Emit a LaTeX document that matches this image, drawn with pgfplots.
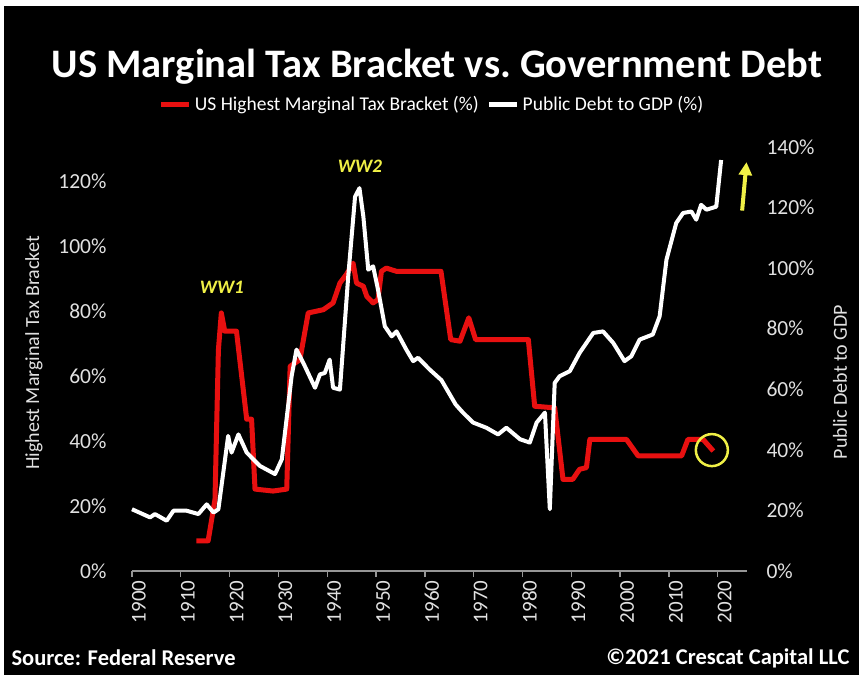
\documentclass[border=0pt]{standalone}
\usepackage{fontspec}
\setmainfont{Carlito}
\usepackage{pgfplots}
\pgfplotsset{compat=1.18}
\usetikzlibrary{arrows.meta}
\definecolor{taxred}{RGB}{232,16,16}
\definecolor{lbl}{RGB}{225,225,225}
\definecolor{axgray}{RGB}{150,150,150}
\definecolor{ann}{RGB}{240,240,70}

\pgfplotstableread{
year tax
1913.2 9.3
1915.6 9.3
1917.0 22.0
1917.7 68.0
1918.3 79.4
1919.0 73.8
1921.4 73.8
1923.5 46.7
1924.5 46.7
1925.2 25.2
1928.9 24.6
1931.7 25.2
1932.4 63.0
1934.4 65.0
1936.1 79.4
1939.2 80.4
1941.2 82.5
1942.6 88.6
1943.9 91.2
1945.3 94.7
1946.0 88.6
1947.4 87.6
1948.1 84.5
1949.4 82.5
1950.4 83.5
1951.1 92.2
1952.1 93.2
1954.2 92.2
1963.3 92.2
1965.3 71.2
1967.2 70.7
1969.0 77.9
1970.4 71.2
1981.2 71.2
1982.5 50.7
1986.6 50.2
1988.3 28.2
1990.3 28.2
1991.7 31.3
1993.1 31.8
1993.8 40.5
2001.3 40.5
2003.7 35.4
2012.6 35.4
2013.9 40.5
2017.0 40.5
2019.1 36.9
}\taxdata

\pgfplotstableread{
year debt
1900.0 20.4
1903.7 17.7
1904.7 18.8
1907.1 16.6
1908.5 19.9
1911.2 19.9
1913.6 18.8
1915.3 22.0
1916.7 19.3
1917.7 20.4
1919.7 44.6
1920.4 39.1
1921.8 45.1
1923.5 39.1
1926.2 34.7
1929.3 32.0
1930.7 36.9
1932.7 64.3
1933.7 73.1
1935.1 68.7
1937.5 60.5
1938.5 64.9
1939.5 65.4
1940.5 69.8
1941.2 60.5
1942.6 59.9
1944.3 97.3
1945.7 123.6
1946.6 126.4
1947.4 117.0
1948.4 99.5
1949.4 100.6
1950.4 92.9
1951.8 80.8
1953.2 77.5
1954.2 79.1
1956.2 73.1
1957.6 69.3
1958.6 70.4
1961.0 66.5
1963.4 63.0
1966.3 55.0
1967.8 52.3
1969.9 49.0
1972.6 47.3
1975.0 45.1
1976.7 47.3
1979.5 43.5
1981.5 42.4
1982.9 49.0
1984.6 52.3
1985.6 20.4
1986.6 62.1
1987.6 64.3
1989.7 66.0
1991.7 72.0
1994.5 78.6
1996.5 79.1
1998.6 75.3
2000.9 69.3
2002.3 70.9
2004.0 76.4
2006.7 78.1
2008.1 84.1
2009.5 102.8
2011.5 114.9
2012.9 118.2
2014.6 118.7
2015.6 116.0
2016.6 120.9
2017.7 119.3
2019.7 120.3
2020.7 135.7
}\debtdata

\begin{document}
\begin{tikzpicture}[x=1pt,y=1pt]
\useasboundingbox (0,0) rectangle (859,675);
\fill[white] (0,0) rectangle (859,675);
\fill[black] (4,0) rectangle (859,669);
\node[font=\bfseries\fontsize{40.5}{42}\selectfont, text=white] at (437,608) {US Marginal Tax Bracket vs.\ Government Debt};
\node[font=\bfseries\fontsize{22.5}{24}\selectfont, text=white, anchor=west] at (8,17) {Source: Federal Reserve};
\node[font=\bfseries\fontsize{22.5}{24}\selectfont, text=white, anchor=east] at (853,17) {©2021 Crescat Capital LLC};
\node[font=\fontsize{20}{22}\selectfont, text=lbl, rotate=90] at (34,322) {Highest Marginal Tax Bracket};
\node[font=\fontsize{20}{22}\selectfont, text=lbl, rotate=90] at (840,293) {Public Debt to GDP};

\begin{axis}[
  at={(132pt,104pt)}, anchor=south west, scale only axis,
  width=615pt, height=424pt,
  xmin=1900, xmax=2026, ymin=0, ymax=130.46,
  clip=false,
  axis x line*=bottom, axis y line*=left,
  x axis line style={draw=axgray, line width=1.3pt},
  y axis line style={draw=none},
  ytick style={draw=none},
  xtick style={draw=axgray, line width=1.3pt},
  tick align=outside, major tick length=6pt,
  xtick={1900,1910,...,2020},
  xticklabels={1900,1910,1920,1930,1940,1950,1960,1970,1980,1990,2000,2010,2020},
  xticklabel style={rotate=90, anchor=east, text=lbl, font=\fontsize{21}{21}\selectfont, yshift=-7pt},
  ytick={0,20,...,120},
  yticklabels={0\%,20\%,40\%,60\%,80\%,100\%,120\%},
  yticklabel style={text=lbl, font=\fontsize{21.5}{21.5}\selectfont, anchor=east, xshift=-16pt},
  legend columns=2,
  legend style={at={(0.488,1.101)}, anchor=center, draw=none, fill=none,
    text=white, font=\fontsize{19.5}{21}\selectfont,
    /tikz/every even column/.append style={column sep=6pt},
    /tikz/every odd column/.append style={column sep=1pt}},
  legend image code/.code={\draw[#1] (0pt,0pt) -- (28pt,0pt);},
]
\addplot[taxred, line width=5pt, line join=round] table[x=year, y=tax] {\taxdata};
\addlegendentry{US Highest Marginal Tax Bracket (\%)}
\addlegendimage{white, line width=5pt}
\addlegendentry{Public Debt to GDP (\%)}
\node[font=\bfseries\itshape\fontsize{19}{21}\selectfont, text=ann] at (axis cs:1918.4,87.4) {WW1};
\node[font=\bfseries\itshape\fontsize{19}{21}\selectfont, text=ann] at (axis cs:1946.7,124.6) {WW2};
\addplot[only marks, mark=o, mark size=16pt, ann, line width=2.5pt, mark options={solid}] coordinates {(2018.8,37.2)};
\end{axis}

\begin{axis}[
  at={(132pt,104pt)}, anchor=south west, scale only axis,
  width=615pt, height=424pt,
  xmin=1900, xmax=2026, ymin=0, ymax=140,
  clip=false,
  axis x line=none, axis y line*=right,
  y axis line style={draw=none},
  ytick style={draw=none},
  ytick={0,20,...,140},
  yticklabels={0\%,20\%,40\%,60\%,80\%,100\%,120\%,140\%},
  yticklabel style={text=lbl, font=\fontsize{21.5}{21.5}\selectfont, anchor=west, xshift=16pt},
]
\addplot[white, line width=4pt, line join=round] table[x=year, y=debt] {\debtdata};
\addplot[ann, line width=4pt, -{Triangle[length=13pt, width=13pt]}] coordinates {(2025.0,119) (2025.9,135)};
\end{axis}
\end{tikzpicture}
\end{document}
